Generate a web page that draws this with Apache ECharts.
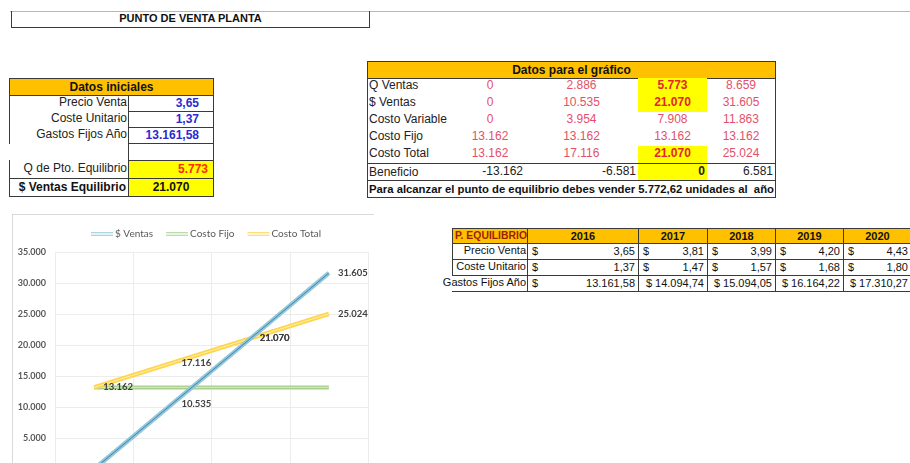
<!DOCTYPE html>
<html>
<head>
<meta charset="utf-8">
<script src="https://cdn.jsdelivr.net/npm/echarts@6/dist/echarts.min.js"></script>
<style>
  html, body { margin: 0; padding: 0; overflow: hidden; background: #fff; }
  #hoja { position: relative; width: 910px; height: 463px; overflow: hidden; background: #fff; }
  .c { position: absolute; box-sizing: border-box; white-space: nowrap; font: 11px "Liberation Sans", Arial, sans-serif; color: #111; padding: 0 2px; }
  #chart { position: absolute; left: 12px; top: 214px; width: 362px; height: 302px; border: 1px solid #d9d9d9; border-right: none; box-sizing: border-box; }
</style>
</head>
<body>
<div id="hoja">
  <div id="chart"></div>
</div>
<script>
// Datos iniciales
const etiquetasIni = ['Precio Venta', 'Coste Unitario', 'Gastos Fijos Año'];
const valoresIni = [3.65, 1.37, 13161.58];
const qEquilibrio = 5773;
const ventasEquilibrio = 21070;

// Datos para el gráfico
const qVentas = [0, 2886, 5773, 8659];
const ventas = [0, 10535, 21070, 31605];
const costoVariable = [0, 3954, 7908, 11863];
const costoFijo = [13162, 13162, 13162, 13162];
const costoTotal = [13162, 17116, 21070, 25024];
const beneficio = [-13162, -6581, 0, 6581];
const unidadesEquilibrio = 5772.62;

// P. EQUILIBRIO por año
const anios = ['2016', '2017', '2018', '2019', '2020'];
const precioVenta = [3.65, 3.81, 3.99, 4.20, 4.43];
const costeUnitario = [1.37, 1.47, 1.57, 1.68, 1.80];
const gastosFijos = [13161.58, 14094.74, 15094.05, 16164.22, 17310.27];

// formato español: 13.161,58
const miles = (n, dec) => {
  const s = Math.abs(n).toFixed(dec || 0);
  let [ent, fr] = s.split('.');
  ent = ent.replace(/\B(?=(\d{3})+(?!\d))/g, '.');
  return (n < 0 ? '-' : '') + ent + (fr ? ',' + fr : '');
};

const hoja = document.getElementById('hoja');
const B = '1px solid #3a3a3a';
const NARANJA = '#ffc000';
const AMARILLO = '#ffff00';
const ROJO = '#e4506a';
const ROJO_FUERTE = '#e3262b';

const celda = (x, y, w, h, texto, st) => {
  const d = document.createElement('div');
  d.className = 'c';
  d.style.cssText = `left:${x}px;top:${y}px;width:${w}px;height:${h}px;line-height:${h - 2}px;` + (st || '');
  if (texto !== null) d.innerHTML = texto;
  hoja.appendChild(d);
  return d;
};

// linea de cuadricula superior y título
celda(10, 11, 900, 1, '', 'background:#b8b8b8;padding:0;');
celda(11, 11, 359, 17, 'PUNTO DE VENTA PLANTA', `border-left:${B};border-right:${B};border-bottom:${B};font-weight:bold;text-align:center;`);

// Tabla Datos iniciales
celda(9, 78, 205, 18, 'Datos iniciales', `background:${NARANJA};border:${B};font-weight:bold;text-align:center;font-size:12px;`);
const filasIni = [95, 111, 127, 143];
etiquetasIni.forEach((et, i) => {
  const y = filasIni[i];
  celda(9, y, 120, filasIni[i + 1] - y + 1, et, `border-left:${B};text-align:right;font-size:12px;color:#222;`);
  celda(128, y, 86, filasIni[i + 1] - y + 1, miles(valoresIni[i], 2), `border:${B};text-align:right;padding-right:14px;color:#2a2ad0;font-weight:bold;font-size:12px;`);
});
celda(128, 143, 86, 18, '', `border:${B};`);
celda(9, 160, 120, 19, 'Q de Pto. Equilibrio', `border-left:${B};text-align:right;font-size:12px;color:#222;`);
celda(128, 160, 86, 19, miles(qEquilibrio), `border:${B};background:${AMARILLO};text-align:right;padding-right:5px;color:#ff2a00;font-weight:bold;font-size:12px;`);
celda(9, 178, 120, 19, '$ Ventas Equilibrio', `border:${B};text-align:right;font-weight:bold;font-size:12px;`);
celda(128, 178, 86, 19, miles(ventasEquilibrio), `border:${B};background:${AMARILLO};text-align:center;font-weight:bold;font-size:12px;`);

// Tabla Datos para el gráfico
const colX = [367, 455, 525, 638, 707, 775];
const filaY = [78, 95, 112, 129, 146, 163, 180, 197];
celda(367, 61, 409, 18, 'Datos para el gráfico', `background:${NARANJA};border:${B};font-weight:bold;text-align:center;font-size:12px;`);
const filasGraf = [
  ['Q Ventas', qVentas, [2]],
  ['$ Ventas', ventas, [2]],
  ['Costo Variable', costoVariable, []],
  ['Costo Fijo', costoFijo, []],
  ['Costo Total', costoTotal, [2]]
];
filasGraf.forEach(([et, vals, resaltar], r) => {
  const y = filaY[r];
  celda(colX[0], y, colX[1] - colX[0], 17, et, 'font-size:12px;color:#222;');
  vals.forEach((v, k) => {
    const amarillo = resaltar.includes(k);
    celda(colX[k + 1], y, colX[k + 2] - colX[k + 1], 17, miles(v),
      `text-align:center;font-size:12px;color:${amarillo ? ROJO_FUERTE : ROJO};` + (amarillo ? `background:${AMARILLO};font-weight:bold;` : ''));
  });
});
celda(colX[0], 163, 409, 18, 'Beneficio', `border-top:${B};font-size:12px;color:#222;`);
beneficio.forEach((v, k) => {
  celda(colX[k + 1], 164, colX[k + 2] - colX[k + 1], 16, miles(v),
    'text-align:right;font-size:12px;color:#222;' + (k === 2 ? `background:${AMARILLO};font-weight:bold;` : ''));
});
celda(colX[0], 180, 409, 18, 'Para alcanzar el punto de equilibrio debes vender ' + miles(unidadesEquilibrio, 2) + ' unidades al  año',
  `border-top:${B};font-weight:bold;font-size:11.3px;color:#111;white-space:pre;overflow:hidden;`);
celda(367, 61, 409, 137, '', `border:${B};`);

// Tabla P. EQUILIBRIO
const c3 = [452, 527, 638, 707, 775, 843, 911];
const f3 = [228, 243, 259, 275, 291];
celda(c3[0], f3[0], c3[1] - c3[0] + 1, 16, 'P. EQUILIBRIO', `background:${NARANJA};border:${B};font-weight:bold;font-size:10.4px;color:#9a1f00;`);
anios.forEach((a, k) => {
  celda(c3[k + 1], f3[0], c3[k + 2] - c3[k + 1] + 1, 16, a, `background:${NARANJA};border:${B};font-weight:bold;text-align:center;`);
});
const filas3 = [['Precio Venta', precioVenta], ['Coste Unitario', costeUnitario], ['Gastos Fijos Año', gastosFijos]];
filas3.forEach(([et, vals], r) => {
  const y = f3[r + 1], h = f3[r + 2] - y + 1;
  celda(c3[0], y, c3[1] - c3[0] + 1, h, et, `text-align:right;border-bottom:${B};` + (r < 2 ? `border-left:${B};` : 'direction:rtl;'));
  vals.forEach((v, k) => {
    const juntos = r === 2 && k > 0;
    const html = juntos ? '<span>$ ' + miles(v, 2) + '</span>' : '<span>$</span><span>' + miles(v, 2) + '</span>';
    celda(c3[k + 1], y, c3[k + 2] - c3[k + 1] + 1, h, html,
      `border-left:${B};border-right:${B};border-bottom:${B};display:flex;align-items:center;padding:0 3px 0 4px;justify-content:${juntos ? 'flex-end' : 'space-between'};`);
  });
});

// Gráfico
const categorias = qVentas.map(v => miles(v));
const fuente = 'Lato, "Open Sans", sans-serif';

const etiqueta = {
  show: true,
  position: 'right',
  distance: 9,
  fontFamily: fuente,
  fontSize: 9.5,
  fontWeight: 'bold',
  color: '#404040',
  formatter: p => miles(p.value)
};

// cada línea doble: trazo ancho + trazo fino interior
const lineaDoble = (nombre, datos, colorBase, colorInterior, ancho, conEtiqueta) => [
  {
    name: nombre,
    type: 'line',
    data: datos,
    symbol: 'circle',
    symbolSize: 0.1,
    itemStyle: { color: colorBase },
    lineStyle: { color: colorBase, width: ancho },
    label: conEtiqueta ? etiqueta : { show: false },
    emphasis: { disabled: true },
    animation: false
  },
  {
    name: nombre,
    type: 'line',
    data: datos,
    symbol: 'none',
    itemStyle: { color: colorBase },
    lineStyle: { color: colorInterior, width: 1 },
    emphasis: { disabled: true },
    animation: false
  }
];

const chart = echarts.init(document.getElementById('chart'));
chart.setOption({
  animation: false,
  legend: {
    data: ['$ Ventas', 'Costo Fijo', 'Costo Total'],
    top: 9,
    left: 73,
    itemWidth: 22,
    itemHeight: 4,
    itemGap: 13,
    icon: 'path://M0,0H30V1.6H0Z M0,3.4H30V5H0Z',
    textStyle: { fontFamily: fuente, fontSize: 10, color: '#595959', padding: [0, 0, 0, -3] }
  },
  grid: { left: 42, right: 6, top: 37, bottom: 46 },
  xAxis: {
    type: 'category',
    data: categorias,
    boundaryGap: true,
    axisLine: { show: false },
    axisTick: { show: false },
    axisLabel: { color: '#595959', fontSize: 9 },
    splitLine: { show: true, lineStyle: { color: '#ececec' } }
  },
  yAxis: {
    type: 'value',
    min: 0,
    max: 35000,
    interval: 5000,
    axisLine: { show: false },
    axisTick: { show: false },
    axisLabel: {
      fontFamily: fuente,
      fontSize: 9,
      fontWeight: 'bold',
      color: '#595959',
      margin: 9,
      formatter: v => miles(v)
    },
    splitLine: { lineStyle: { color: '#ececec' } }
  },
  series: [
    ...lineaDoble('Costo Fijo', costoFijo, '#a9d18e', '#d3e9c4', 4, false),
    ...lineaDoble('Costo Total', costoTotal, '#ffd54f', '#fff0a6', 4.5, true),
    ...lineaDoble('$ Ventas', ventas, '#93c8d6', '#3f7fbf', 4.5, true)
  ]
});
</script>
</body>
</html>
